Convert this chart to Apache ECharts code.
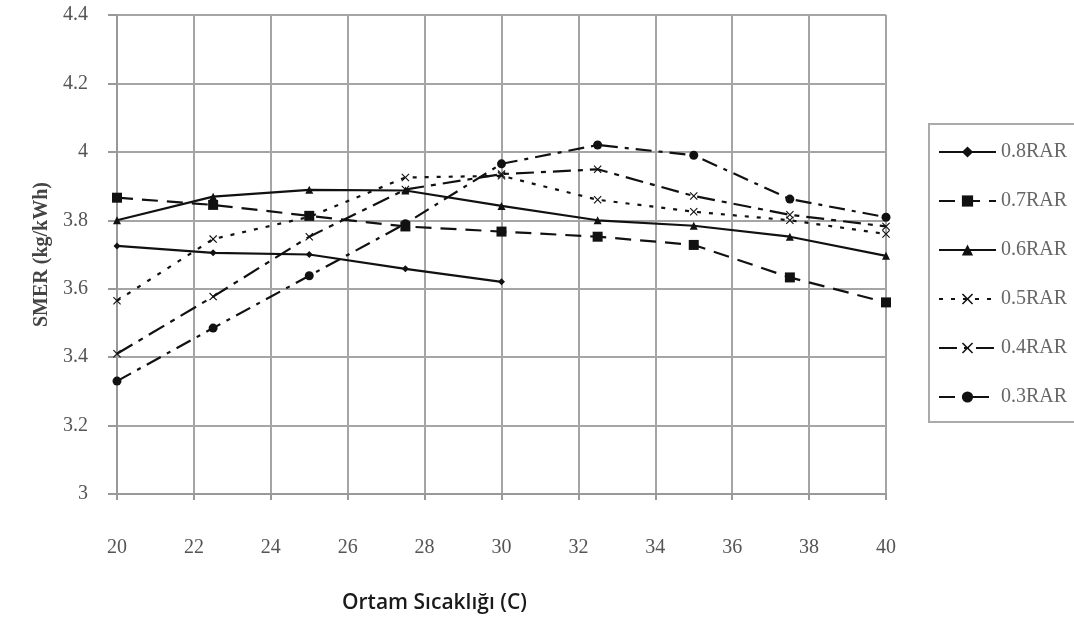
<!DOCTYPE html>
<html>
<head>
<meta charset="utf-8">
<style>
  html, body { margin: 0; padding: 0; background: #fff; }
  #chart { width: 1074px; height: 626px; }
</style>
<script src="https://cdn.jsdelivr.net/npm/echarts@6/dist/echarts.min.js"></script>
</head>
<body>
<div id="chart"></div>
<script>
// ortam sicakligi (C)
var temps = [20, 22.5, 25, 27.5, 30, 32.5, 35, 37.5, 40]
var rar08 = [3.725, 3.705, 3.70, 3.658, 3.62, null, null, null, null]
var rar07 = [3.866, 3.845, 3.813, 3.782, 3.767, 3.752, 3.728, 3.633, 3.56]
var rar06 = [3.80, 3.869, 3.889, 3.887, 3.842, 3.80, 3.784, 3.752, 3.696]
var rar05 = [3.565, 3.745, 3.81, 3.925, 3.93, 3.86, 3.825, 3.80, 3.76]
var rar04 = [3.41, 3.577, 3.752, 3.89, 3.935, 3.949, 3.871, 3.816, 3.782]
var rar03 = [3.33, 3.485, 3.638, 3.79, 3.965, 4.02, 3.99, 3.862, 3.809]
var seriesNames = ['0.8RAR', '0.7RAR', '0.6RAR', '0.5RAR', '0.4RAR', '0.3RAR']

var xMark = 'path://M0,1L1,0L5,4L9,0L10,1L6,5L10,9L9,10L5,6L1,10L0,9L4,5Z'
var serif = 'Liberation Serif'
var ink = '#111'

function pairs(vals) {
  return temps.map(function (t, i) { return [t, vals[i]] }).filter(function (p) { return p[1] != null })
}

function line(name, vals, dash, symbol, size) {
  return {
    name: name,
    type: 'line',
    data: pairs(vals),
    symbol: symbol,
    symbolSize: size,
    showAllSymbol: true,
    itemStyle: { color: ink },
    lineStyle: { color: ink, width: 2.2, type: dash },
    emphasis: { disabled: true }
  }
}

var chart = echarts.init(document.getElementById('chart'))
chart.setOption({
  animation: false,
  title: {
    text: 'Ortam Sıcaklığı (C)',
    left: 337,
    top: 588,
    textStyle: { fontFamily: 'Open Sans', fontSize: 21, fontWeight: 600, color: '#1a1a1a' }
  },
  grid: { left: 117, top: 15, right: 188, bottom: 132 },
  legend: {
    orient: 'vertical',
    left: 929,
    top: 124,
    padding: [18, 30, 15, 9],
    itemGap: 29,
    itemWidth: 57,
    itemHeight: 14,
    borderColor: '#aaa',
    borderWidth: 2,
    data: seriesNames,
    textStyle: { fontFamily: serif, fontSize: 20, lineHeight: 20, color: '#666' }
  },
  xAxis: {
    type: 'value',
    min: 20,
    max: 40,
    interval: 2,
    axisLine: { lineStyle: { color: '#999', width: 2 } },
    axisTick: { show: true, length: 6, lineStyle: { color: '#999', width: 2 } },
    axisLabel: { margin: 44, fontFamily: serif, fontSize: 20, color: '#555' },
    splitLine: { show: true, lineStyle: { color: '#a5a5a5', width: 2 } }
  },
  yAxis: {
    type: 'value',
    min: 3,
    max: 4.4,
    interval: 0.2,
    name: 'SMER (kg/kWh)',
    nameLocation: 'middle',
    nameGap: 57,
    nameTextStyle: { fontFamily: serif, fontSize: 20, fontWeight: 'bold', color: '#444' },
    axisLine: { show: true, lineStyle: { color: '#999', width: 2 } },
    axisTick: { show: true, length: 9, lineStyle: { color: '#999', width: 2 } },
    axisLabel: { margin: 29, fontFamily: serif, fontSize: 20, color: '#555' },
    splitLine: { show: true, lineStyle: { color: '#a5a5a5', width: 2 } }
  },
  series: [
    line('0.8RAR', rar08, 'solid', 'diamond', 7),
    line('0.7RAR', rar07, [16, 9], 'rect', 10),
    line('0.6RAR', rar06, 'solid', 'triangle', 8),
    line('0.5RAR', rar05, [4, 8], xMark, 8),
    line('0.4RAR', rar04, [18, 7, 5, 7], xMark, 8),
    line('0.3RAR', rar03, [16, 7, 4, 7], 'circle', 9)
  ]
})
</script>
</body>
</html>
